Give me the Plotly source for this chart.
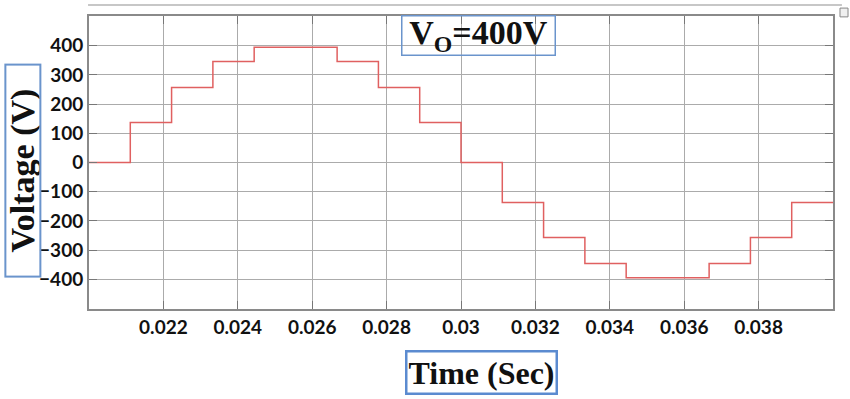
import plotly.graph_objects as go

# Step switching instants (s) and staircase voltage levels (V)
time_s = [0.02, 0.02111, 0.02222, 0.02333, 0.02444, 0.02667, 0.02778, 0.02889,
          0.03, 0.03111, 0.03222, 0.03333, 0.03444, 0.03667, 0.03778, 0.03889, 0.04]
voltage_v = [0, 137, 257, 346, 395, 346, 257, 137,
             0, -137, -257, -346, -395, -346, -257, -137, -137]

x_ticks = [0.022, 0.024, 0.026, 0.028, 0.03, 0.032, 0.034, 0.036, 0.038]
x_tick_text = ["0.022", "0.024", "0.026", "0.028", "0.03", "0.032", "0.034", "0.036", "0.038"]
y_ticks = [-400, -300, -200, -100, 0, 100, 200, 300, 400]

fig = go.Figure()
fig.add_trace(go.Scatter(
    x=time_s, y=voltage_v, mode="lines", line_shape="hv",
    line=dict(color="#e06060", width=1.5), showlegend=False, hoverinfo="skip"))

tick_font = dict(family="Lato", size=19, color="#111111", weight="bold")

fig.update_layout(
    width=850, height=399,
    margin=dict(l=89, r=17, t=16, b=90),
    paper_bgcolor="white", plot_bgcolor="white",
    xaxis=dict(range=[0.02, 0.04], tickvals=x_ticks, ticktext=x_tick_text,
               showgrid=True, gridcolor="#ababab", gridwidth=1,
               ticks="inside", ticklen=8, tickcolor="#777777",
               showline=True, linecolor="#8a8a8a", linewidth=2, mirror="ticks",
               zeroline=False, tickfont=tick_font),
    yaxis=dict(range=[-502, 502], tickvals=y_ticks,
               showgrid=True, gridcolor="#ababab", gridwidth=1,
               ticks="inside", ticklen=8, tickcolor="#777777",
               showline=True, linecolor="#8a8a8a", linewidth=2, mirror="ticks",
               zeroline=False, tickfont=tick_font),
    annotations=[
        dict(text="Voltage (V)", xref="paper", yref="paper",
             x=-0.0894, y=0.474, xanchor="center", yanchor="middle",
             textangle=-90, showarrow=False,
             font=dict(family="Liberation Serif", size=34, color="#111111", weight="bold"),
             bordercolor="#6a94cc", borderwidth=2, borderpad=0,
             width=210, height=33),
        dict(text="V<sub>O</sub>=400V", xref="paper", yref="paper",
             x=0.5238, y=0.935, xanchor="center", yanchor="middle",
             showarrow=False,
             font=dict(family="Liberation Serif", size=34, color="#111111", weight="bold"),
             bordercolor="#6a94cc", borderwidth=1.5, borderpad=0,
             width=152, height=38),
        dict(text="Time (Sec)", xref="paper", yref="paper",
             x=0.527, y=-0.218, xanchor="center", yanchor="middle",
             showarrow=False,
             font=dict(family="Liberation Serif", size=32, color="#111111", weight="bold"),
             bordercolor="#5b8bd0", borderwidth=2.5, borderpad=0,
             width=148, height=40),
    ],
    shapes=[
        dict(type="line", xref="paper", yref="paper",
             x0=-0.0013, x1=1.012, y0=1.0375, y1=1.0375,
             line=dict(color="#b5b5b5", width=1.5)),
        dict(type="rect", xref="paper", yref="paper",
             x0=1.0094, x1=1.0202, y0=0.997, y1=1.027,
             line=dict(color="#888888", width=1), fillcolor="#f0f0f0"),
    ],
)

fig.write_html("out.html", config={"displayModeBar": False},
               post_script="document.body.style.margin='0';")
